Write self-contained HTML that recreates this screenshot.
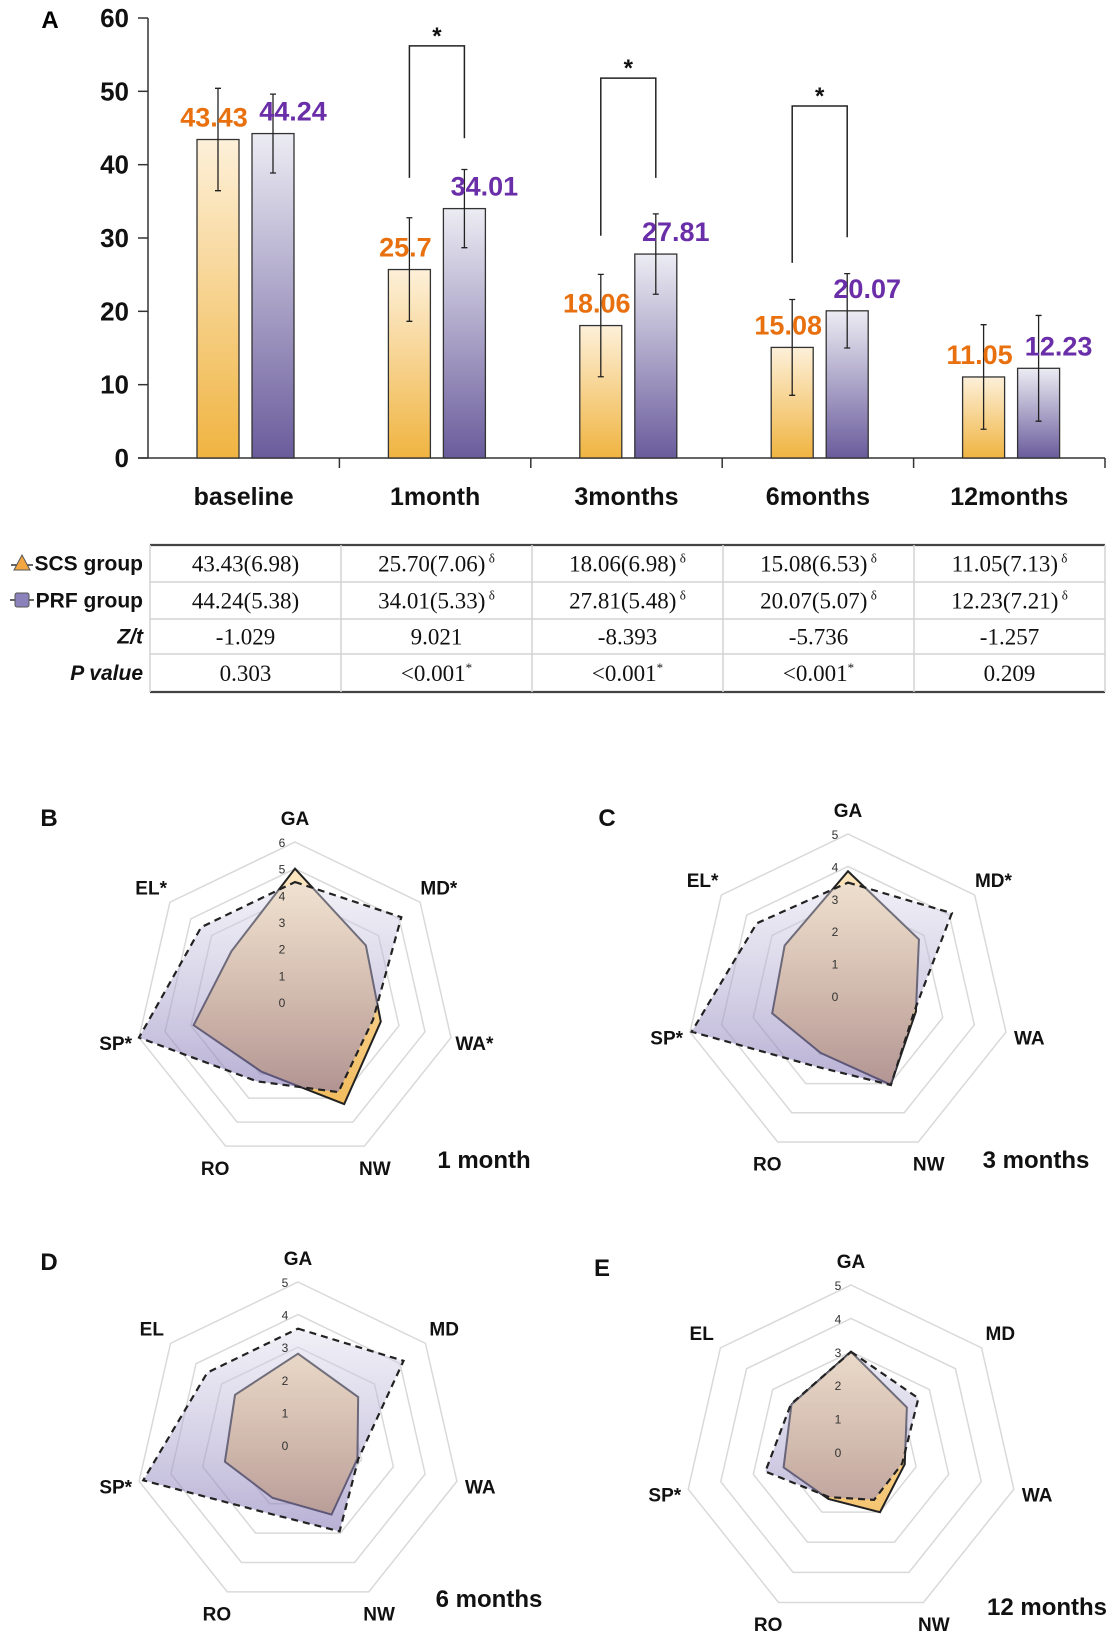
<!DOCTYPE html>
<html><head><meta charset="utf-8"><style>
html,body{margin:0;padding:0;background:#fff;}
svg{display:block;font-family:"Liberation Sans",sans-serif;}
</style></head><body>
<svg id="fig" width="1116" height="1637" viewBox="0 0 1116 1637" xmlns="http://www.w3.org/2000/svg">
<defs>
<linearGradient id="gOr" x1="0" y1="0" x2="0" y2="1"><stop offset="0" stop-color="#fdf0d9"/><stop offset="1" stop-color="#f0b441"/></linearGradient>
<linearGradient id="gPu" x1="0" y1="0" x2="0" y2="1"><stop offset="0" stop-color="#ececf3"/><stop offset="1" stop-color="#6a5c9c"/></linearGradient>
</defs>
<g id="bars"></g>
<g id="table"></g>
<g id="radars"></g>
</svg>
<script>
// ---- bar chart data ----
const categories = ["baseline","1month","3months","6months","12months"];
const scsMean = [43.43,25.7,18.06,15.08,11.05];
const scsSD = [6.98,7.06,6.98,6.53,7.13];
const prfMean = [44.24,34.01,27.81,20.07,12.23];
const prfSD = [5.38,5.33,5.48,5.07,7.21];
const yTicks = [0,10,20,30,40,50,60];
const bracketCat = [1,2,3];
const bracketTop = [56.2,51.8,48.0];
const bracketLeftEnd = [38.2,30.3,26.6];
const bracketRightEnd = [43.6,38.2,30.1];
// ---- table data ----
const rowLabels = ["SCS group","PRF group","Z/t","P value"];
const scsCells = ["43.43(6.98)","25.70(7.06)","18.06(6.98)","15.08(6.53)","11.05(7.13)"];
const prfCells = ["44.24(5.38)","34.01(5.33)","27.81(5.48)","20.07(5.07)","12.23(7.21)"];
const ztCells = ["-1.029","9.021","-8.393","-5.736","-1.257"];
const pCells = ["0.303","<0.001","<0.001","<0.001","0.209"];
const pStar = [false,true,true,true,false];
const deltaMark = [false,true,true,true,true];
// ---- radar data (axes: GA, MD, WA, NW, RO, SP, EL) ----
const axesB = ["GA","MD*","WA*","NW","RO","SP*","EL*"];
const axesC = ["GA","MD*","WA","NW","RO","SP*","EL*"];
const axesD = ["GA","MD","WA","NW","RO","SP*","EL"];
const axesE = ["GA","MD","WA","NW","RO","SP*","EL"];
const radarB_scs = [5.0,3.4,3.3,4.25,2.9,3.9,3.05];
const radarB_prf = [4.5,5.1,3.0,3.75,3.3,6.0,4.5];
const radarC_scs = [3.85,2.8,2.15,3.04,1.95,2.4,2.5];
const radarC_prf = [3.5,4.1,2.1,3.05,2.4,4.95,3.6];
const radarD_scs = [2.8,2.36,1.87,2.37,1.8,2.3,2.47];
const radarD_prf = [3.57,4.14,1.9,2.94,2.3,4.87,3.56];
const radarE_scs = [3.0,2.14,1.65,2.0,1.56,2.07,2.28];
const radarE_prf = [3.0,2.58,1.57,1.59,1.5,2.63,2.3];

const NS="http://www.w3.org/2000/svg";
function mk(tag,attrs,parent){const e=document.createElementNS(NS,tag);for(const k in attrs)e.setAttribute(k,attrs[k]);parent.appendChild(e);return e;}
function txt(s,attrs,parent){const e=mk("text",attrs,parent);e.textContent=s;return e;}

// ===== BAR CHART =====
const gb=document.getElementById("bars");
const y0=458, yScale=440/60, x0=148, catW=191.4, bw=42;
const Y=v=>y0-v*yScale;
const catX=i=>x0+i*catW;
let t=txt("A",{x:50,y:28,"font-size":24,"font-weight":"bold","text-anchor":"middle"},gb);


let ax=mk("line",{x1:x0,y1:Y(60),x2:x0,y2:y0,stroke:"#333","stroke-width":1.5},gb);


let xa=mk("line",{x1:x0-10,y1:y0,x2:catX(5),y2:y0,stroke:"#333","stroke-width":1.5},gb);


yTicks.forEach(v=>{
  let l=mk("line",{x1:x0-10,y1:Y(v),x2:x0,y2:Y(v),stroke:"#333","stroke-width":1.5},gb);
  
  
  let tt=txt(String(v),{x:129,y:Y(v)+9,"font-size":26,"font-weight":"bold","text-anchor":"end",fill:"#111"},gb);
  
  
});
for(let i=1;i<=5;i++){
  let l=mk("line",{x1:catX(i),y1:y0,x2:catX(i),y2:y0+10,stroke:"#333","stroke-width":1.5},gb);
  
  
}
categories.forEach((c,i)=>{
  const cx=catX(i)+catW/2;
  let ct=txt(c,{x:cx,y:505,"font-size":25,"font-weight":"bold","text-anchor":"middle",fill:"#111"},gb);
  
  
  [[scsMean,scsSD,70,"url(#gOr)","#e8700f",-4],[prfMean,prfSD,125,"url(#gPu)","#6a2ea8",20]].forEach((s,k)=>{
    const m=s[0][i], sd=s[1][i], bx=catX(i)+s[2];
    let r=mk("rect",{x:bx-bw/2,y:Y(m),width:bw,height:y0-Y(m),fill:s[3],stroke:"#333","stroke-width":1.3},gb);
    
    
    let eb=mk("path",{d:`M${bx},${Y(m+sd)}V${Y(m-sd)}M${bx-3},${Y(m+sd)}h6M${bx-3},${Y(m-sd)}h6`,stroke:"#222","stroke-width":1.3,fill:"none"},gb);
    
    
    let vl=txt(String(m),{x:bx+s[5],y:Y(m+3)+9,"font-size":27,"font-weight":"bold","text-anchor":"middle",fill:s[4]},gb);
    
    
  });
});
bracketCat.forEach((c,j)=>{
  const xl=catX(c)+70, xr=catX(c)+125;
  let p=mk("path",{d:`M${xl},${Y(bracketLeftEnd[j])}V${Y(bracketTop[j])}H${xr}V${Y(bracketRightEnd[j])}`,stroke:"#222","stroke-width":1.5,fill:"none"},gb);
  
  
  let st=txt("*",{x:(xl+xr)/2,y:Y(bracketTop[j])-2,"font-size":24,"font-weight":"bold","text-anchor":"middle",fill:"#111"},gb);
  
  
});

// ===== TABLE =====
const gt=document.getElementById("table");
const tx=[150,341,532,723,914,1105], ty=[545,582,619,654,692];
mk("line",{x1:150,y1:545,x2:1105,y2:545,stroke:"#444","stroke-width":2.2},gt);
mk("line",{x1:150,y1:692,x2:1105,y2:692,stroke:"#444","stroke-width":2.2},gt);
[582,619,654].forEach(y=>mk("line",{x1:150,y1:y,x2:1105,y2:y,stroke:"#d4d4d4","stroke-width":1.5},gt));
tx.forEach(x=>mk("line",{x1:x,y1:545,x2:x,y2:692,stroke:"#d4d4d4","stroke-width":1.5},gt));
const rowsData=[scsCells,prfCells,ztCells,pCells];
rowLabels.forEach((lab,r)=>{
  const cy=(ty[r]+ty[r+1])/2;
  let rl=txt(lab,{x:143,y:cy+7,"font-size":21,"font-weight":"bold","text-anchor":"end",fill:"#111","font-style":r>=2?"italic":"normal"},gt);
  
  
  rowsData[r].forEach((v,c)=>{
    const cx=(tx[c]+tx[c+1])/2;
    let e=txt(v,{x:cx,y:cy+8,"font-size":23,"text-anchor":"middle",fill:"#111","font-family":"Liberation Serif, serif"},gt);
    
    
    if(r<2&&deltaMark[c]){const ts=mk("tspan",{"font-size":13,dy:-9},e);ts.textContent=" δ";}
    if(r===3&&pStar[c]){const ts=mk("tspan",{"font-size":13,dy:-9},e);ts.textContent="*";}
  });
});
let li1=mk("g",{},gt);


mk("line",{x1:11,y1:565,x2:33,y2:565,stroke:"#333","stroke-width":1.5},li1);
mk("polygon",{points:"22,555 30,570 14,570",fill:"#f3a743",stroke:"#555","stroke-width":1},li1);
let li2=mk("g",{},gt);


mk("line",{x1:10,y1:600,x2:34,y2:600,stroke:"#333","stroke-width":1.5},li2);
mk("rect",{x:15,y:593,width:14,height:14,rx:2,fill:"#8c82bb",stroke:"#555","stroke-width":1},li2);

// ===== RADARS =====
const gr=document.getElementById("radars");
function radar(id,letter,lx,ly,title,tx_,ty_,cx,cy,R,max,axes,scs,prf){
  const g=mk("g",{},gr);
  
  
  const defs=mk("defs",{},g);
  const go=mk("linearGradient",{id:"ro"+id,gradientUnits:"userSpaceOnUse",x1:0,y1:cy-R,x2:0,y2:cy+R*0.9},defs);
  mk("stop",{offset:0,"stop-color":"#fdebcd"},go);mk("stop",{offset:1,"stop-color":"#f1b54c"},go);
  const gp=mk("linearGradient",{id:"rp"+id,gradientUnits:"userSpaceOnUse",x1:0,y1:cy-R,x2:0,y2:cy+R*0.9},defs);
  mk("stop",{offset:0,"stop-color":"#f2f2f8","stop-opacity":0.4},gp);mk("stop",{offset:1,"stop-color":"#6a5aa6","stop-opacity":0.62},gp);
  const n=7, ang=k=>(-90+k*360/n)*Math.PI/180;
  const pt=(k,v)=>[cx+Math.cos(ang(k))*v/max*R, cy+Math.sin(ang(k))*v/max*R];
  for(let r=1;r<=max;r++){
    const pts=[];for(let k=0;k<n;k++)pts.push(pt(k,r).join(","));
    let ring=mk("polygon",{points:pts.join(" "),fill:"none",stroke:r===1?"#eeeeee":"#d9d9d9","stroke-width":1.5},g);
    
    
  }
  const poly=(vals)=>vals.map((v,k)=>pt(k,v).join(",")).join(" ");
  let ps=mk("polygon",{points:poly(scs),fill:"url(#ro"+id+")",stroke:"#222","stroke-width":2},g);
  
  
  let pp=mk("polygon",{points:poly(prf),fill:"url(#rp"+id+")",stroke:"none"},g);
  
  
  let pd=mk("polygon",{points:poly(prf),fill:"none",stroke:"#222","stroke-width":2.2,"stroke-dasharray":"7,5"},g);
  
  
  for(let r=0;r<=max;r++){
    let tl=txt(String(r),{x:cx-13,y:cy-r/max*R+5,"font-size":12,"text-anchor":"middle",fill:"#333"},g);
    
    
  }
  axes.forEach((a,k)=>{
    const p=pt(k,max*(R+24)/R);
    let al=txt(a,{x:p[0],y:p[1]+7,"font-size":19,"font-weight":"bold","text-anchor":"middle",fill:"#111"},g);
    
    
  });
  let pl=txt(letter,{x:lx,y:ly,"font-size":24,"font-weight":"bold","text-anchor":"middle",fill:"#111"},g);
  
  
  let tt=txt(title,{x:tx_,y:ty_,"font-size":24,"font-weight":"bold","text-anchor":"middle",fill:"#111"},g);
  
  
}
radar("b","B",49,826,"1 month",484,1168,295,1002,160,6,axesB,radarB_scs,radarB_prf);
radar("c","C",607,826,"3 months",1036,1168,848,996,162,5,axesC,radarC_scs,radarC_prf);
radar("d","D",49,1270,"6 months",489,1607,298,1445,163,5,axesD,radarD_scs,radarD_prf);
radar("e","E",602,1276,"12 months",1047,1615,851,1452,167,5,axesE,radarE_scs,radarE_prf);
</script>
</body></html>
